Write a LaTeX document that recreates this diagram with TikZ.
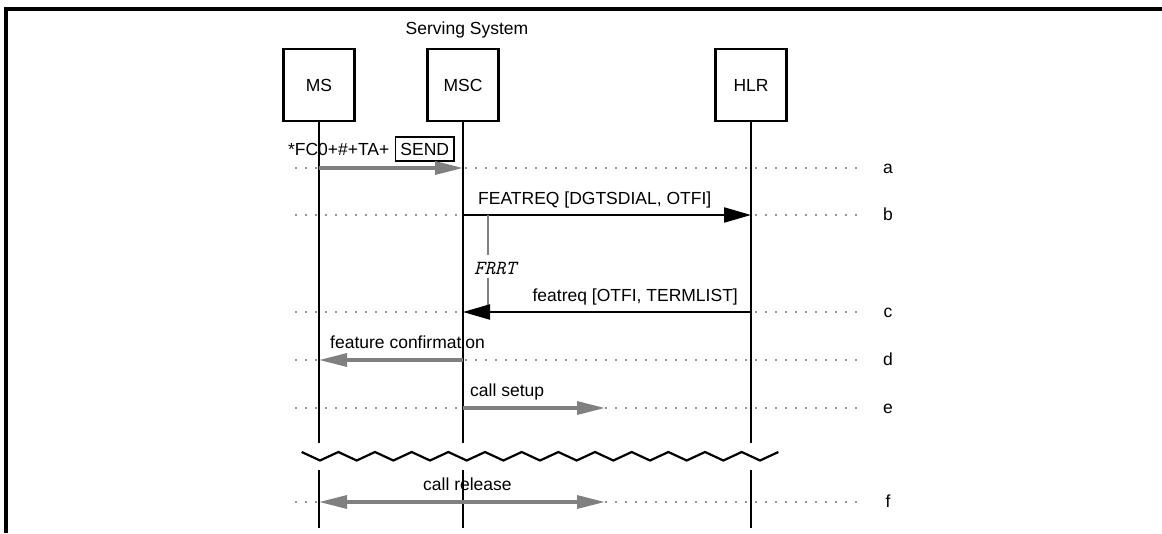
\documentclass[tikz,border=0pt]{standalone}
\usepackage{fontspec}
\setmainfont{Liberation Sans}
\usetikzlibrary{arrows.meta}
\begin{document}
\begin{tikzpicture}[x=1pt,y=-1pt,
  every node/.style={font=\fontsize{17.5}{20}\selectfont, inner sep=0pt},
  entity/.style={draw, line width=2.2pt, minimum width=71pt, minimum height=72pt},
  life/.style={line width=2.2pt},
  frameline/.style={line width=3.2pt},
  dots/.style={line width=1.8pt, line cap=round, dash pattern=on 0pt off 10pt, black!85},
  gmsg/.style={line width=3.2pt, gray, -{Triangle[length=28pt,width=13pt]}},
  gmsgboth/.style={line width=3.2pt, gray, {Triangle[length=28pt,width=13pt]}-{Triangle[length=28pt,width=13pt]}},
  bmsg/.style={line width=2.2pt, -{Triangle[length=27pt,width=15pt]}},
  lblw/.style={anchor=base west},
  lble/.style={anchor=base east},
  rowlbl/.style={anchor=base},
  timer/.style={gray, line width=2.5pt},
  keybox/.style={draw, line width=1.8pt, inner xsep=5pt, text height=12.5pt, text depth=0pt, inner ysep=5.5pt}
]
\useasboundingbox (0,0) rectangle (1162,533);
% frame
\draw[frameline] (6,533) -- (6,9) -- (1162,9);

% rows
\coordinate (ya) at (0,168);
\coordinate (yb) at (0,215);
\coordinate (yc) at (0,312);
\coordinate (yd) at (0,360);
\coordinate (ye) at (0,408);
\coordinate (yf) at (0,502);
\coordinate (brk1) at (0,443);
\coordinate (brk2) at (0,470);
\coordinate (bot) at (0,528);

% dotted guide lines and row letters
\foreach \r/\l in {a/a,b/b,c/c,d/d,e/e,f/f}{
  \draw[dots] (296,0 |- y\r) -- (866,0 |- y\r);
  \node[rowlbl] (lbl\r) at ([yshift=-5pt]888,0 |- y\r) {\l};
}

% entities
\node at (467,30) (ss) {Serving System};
\node[entity] (MS)  at (319,85) {MS};
\node[entity] (MSC) at (463,85) {MSC};
\node[entity] (HLR) at (751,85) {HLR};

% lifelines
\foreach \e in {MS,MSC,HLR}{
  \draw[life] (\e.south) -- (\e.south |- brk1);
  \draw[life] (\e.south |- brk2) -- (\e.south |- bot);
}

% break zigzag
\draw[line width=2.2pt] (301.7,452) \foreach \k in {0,...,12}{ -- ({320+36.67*\k},460.5) -- ({338.33+36.67*\k},452) };

% a
\node[keybox, anchor=east] (send) at (455,149) {SEND};
\node[anchor=east] (dial) at ([xshift=-5pt]send.west) {*FC0+\#+TA+};
\draw[gmsg] (MS |- ya) -- (MSC |- ya);

% b
\draw[bmsg] (MSC |- yb) -- (HLR |- yb);
\node[lblw] (lb) at (478,204) {FEATREQ [DGTSDIAL, OTFI]};

% timer
\coordinate (t1) at (488,215);
\coordinate (t2) at (488,255);
\coordinate (t3) at (488,278);
\coordinate (t4) at (488,312);
\draw[timer] (t1) -- (t2);
\draw[timer] (t3) -- (t4);
\node (frrt) at (495,268) {\ttfamily\itshape\fontsize{20}{22}\selectfont FRRT};

% c
\draw[bmsg] (HLR |- yc) -- (MSC |- yc);
\node[lble] (lc) at (738,301) {featreq [OTFI, TERMLIST]};

% d
\draw[gmsg] (MSC |- yd) -- (MS |- yd);
\node[lblw] (ld) at (330,348) {feature confirmation};

% e
\coordinate (ee) at (605,408);
\draw[gmsg] (MSC |- ye) -- (ee);
\node[lblw] (le) at (470,396) {call setup};

% f
\coordinate (fe) at (605,502);
\draw[gmsgboth] (MS |- yf) -- (fe);
\node[lblw] (lf) at (423,490) {call release};
\end{tikzpicture}
\end{document}
